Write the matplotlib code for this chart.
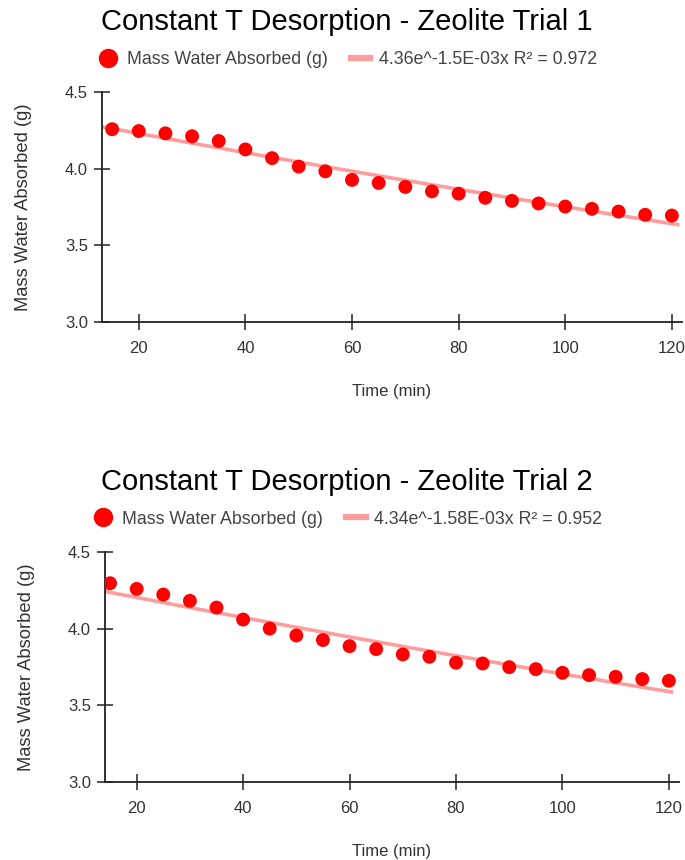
import matplotlib
matplotlib.use("Agg")
import matplotlib.pyplot as plt
import numpy as np
from matplotlib.lines import Line2D

plt.rcParams["font.family"] = ["Liberation Sans", "DejaVu Sans"]

# ---- data -----------------------------------------------------------------
time_min = [15, 20, 25, 30, 35, 40, 45, 50, 55, 60, 65, 70,
            75, 80, 85, 90, 95, 100, 105, 110, 115, 120]

mass_trial1 = [4.259, 4.247, 4.232, 4.213, 4.182, 4.127, 4.070, 4.015,
               3.984, 3.928, 3.908, 3.882, 3.853, 3.838, 3.811, 3.791,
               3.774, 3.754, 3.739, 3.721, 3.700, 3.695]
mass_trial2 = [4.298, 4.261, 4.224, 4.183, 4.139, 4.061, 4.002, 3.957,
               3.927, 3.887, 3.868, 3.833, 3.818, 3.779, 3.774, 3.750,
               3.737, 3.713, 3.698, 3.687, 3.672, 3.661]

# exponential trendline coefficients (from the legend) and drawn x-span
fit1 = (4.36, -1.5e-3)
fit2 = (4.34, -1.58e-3)
fit1_span = (13.1, 121.4)
fit2_span = (14.05, 120.8)

titles = ["Constant T Desorption - Zeolite Trial 1",
          "Constant T Desorption - Zeolite Trial 2"]
fit_labels = ["4.36e^-1.5E-03x R² = 0.972",
              "4.34e^-1.58E-03x R² = 0.952"]
xlims = [(13.1, 121.9), (14.05, 121.9)]

RED = "#ff0000"
PINK = "#ff9c9c"
TXT = "#333333"

fig = plt.figure(figsize=(6.85, 8.6), dpi=100)
# [left, bottom, width, height] in figure fractions
boxes = [[102 / 685, 1 - 322 / 860, 580 / 685, 229.7 / 860],
         [105 / 685, 1 - 782 / 860, 574 / 685, 229.7 / 860]]
title_y = [22, 482]
legend_y = [60, 519]

for i, (mass, fit, span) in enumerate([(mass_trial1, fit1, fit1_span),
                                       (mass_trial2, fit2, fit2_span)]):
    ax = fig.add_axes(boxes[i])
    xs = np.linspace(span[0], span[1], 100)
    ax.plot(xs, fit[0] * np.exp(fit[1] * xs), color=PINK, lw=2.6,
            solid_capstyle="butt", zorder=2)
    ax.scatter(time_min, mass, s=100, color=RED, edgecolors="none", zorder=3)

    ax.set_xlim(*xlims[i])
    ax.set_ylim(3.0, 4.5)
    ax.set_xticks([20, 40, 60, 80, 100, 120])
    ax.set_yticks([3.0, 3.5, 4.0, 4.5])
    ax.yaxis.set_major_formatter(matplotlib.ticker.FormatStrFormatter("%.1f"))
    for side in ("top", "right"):
        ax.spines[side].set_visible(False)
    for side in ("left", "bottom"):
        ax.spines[side].set_linewidth(1.3)
        ax.spines[side].set_color("#222222")
    ax.tick_params(direction="inout", length=12, width=1.1, color="#222222",
                   labelsize=12, labelcolor=TXT)
    ax.tick_params(axis="x", pad=8)
    ax.tick_params(axis="y", pad=4)

    ax.set_xlabel("Time (min)", fontsize=12, color=TXT, labelpad=20)
    ax.set_ylabel("Mass Water Absorbed (g)", fontsize=13.2, color=TXT,
                  labelpad=24)

    fig.text(347 / 685, 1 - title_y[i] / 860, titles[i], fontsize=21,
             ha="center", va="center", color="black")

    handles = [Line2D([], [], ls="none", marker="o", markersize=14,
                      markerfacecolor=RED, markeredgecolor="none"),
               Line2D([], [], color=PINK, lw=4.5)]
    fig.legend(handles, ["Mass Water Absorbed (g)", fit_labels[i]],
               loc="center", bbox_to_anchor=(348 / 685, 1 - legend_y[i] / 860),
               ncol=2, frameon=False, fontsize=12.8, labelcolor="#444444",
               handlelength=1.1, handletextpad=0.5, columnspacing=1.3)

fig.savefig("out.png", dpi=100)
